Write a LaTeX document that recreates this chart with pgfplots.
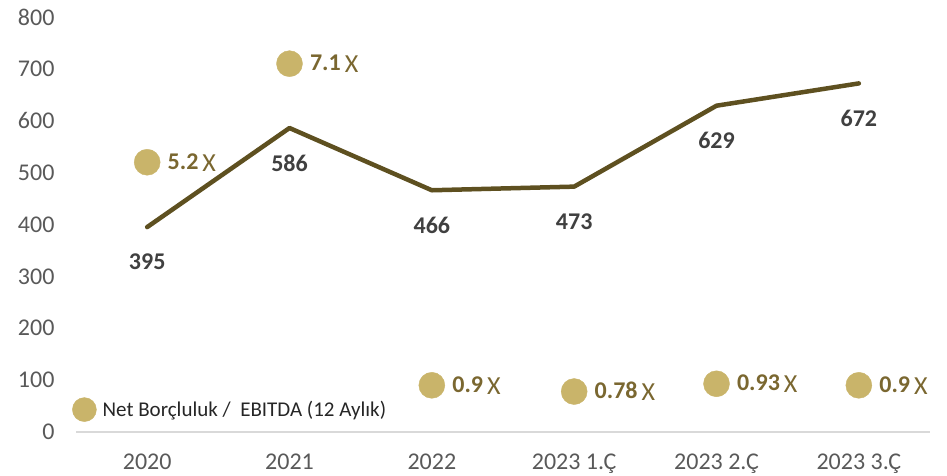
\documentclass[border=0pt]{standalone}
\usepackage{pgfplots}
\pgfplotsset{compat=1.18}
\usepackage{fontspec}
\setmainfont{Carlito}
\definecolor{lineC}{RGB}{94,80,32}
\definecolor{bubC}{RGB}{201,180,106}
\definecolor{bubT}{RGB}{122,103,48}
\definecolor{valT}{RGB}{64,64,64}
\definecolor{tickT}{RGB}{89,89,89}
\definecolor{axC}{RGB}{217,217,217}
\begin{document}
\begin{tikzpicture}
\useasboundingbox (0,0) rectangle (947pt,476pt);
\begin{axis}[
  at={(76pt,44pt)}, anchor=south west,
  width=854pt, height=415pt, scale only axis,
  xmin=-0.5, xmax=5.5, ymin=0, ymax=800,
  axis x line*=bottom, axis y line*=left,
  x axis line style={axC, line width=1.5pt, -},
  y axis line style={draw=none},
  xtick={0,1,2,3,4,5},
  xticklabels={2020,2021,2022,2023 1.Ç,2023 2.Ç,2023 3.Ç},
  ytick={0,100,...,800},
  tick style={draw=none},
  /pgf/number format/assume math mode=true,
  xticklabel style={font=\fontsize{24}{28}\selectfont, text=tickT, yshift=-18pt},
  yticklabel style={font=\fontsize{24}{28}\selectfont, text=tickT, xshift=-18pt},
  clip=false,
  legend style={at={(rel axis cs:0,0)}, anchor=south west, xshift=-4pt, yshift=10pt,
    draw=none, fill=none, font=\fontsize{21}{25}\selectfont, text=black!85,
    inner sep=0pt},
  legend cell align=left,
  legend image code/.code={\fill[bubC] (0pt,0pt) circle (12pt);},
]
% Net debt line
\addplot[lineC, line width=4.5pt, line join=round, line cap=round, forget plot,
  nodes near coords, point meta=explicit symbolic,
  every node near coord/.append style={anchor=center, yshift=-35pt, text=valT,
    font=\bfseries\fontsize{24}{28}\selectfont}]
  table[meta=lab] {
x y lab
0 395 395
1 586 586
2 466 466
3 473 473
4 629 629
5 672 672
};
% Net debt / EBITDA (x100)
\addplot[only marks, mark=*, mark size=13pt, mark options={fill=bubC, draw=bubC},
  nodes near coords={\textbf{\pgfplotspointmeta}\,\raisebox{-2pt}{\fontsize{26}{28}\selectfont X}},
  point meta=explicit symbolic,
  every node near coord/.append style={anchor=west, xshift=17pt, yshift=0pt, text=bubT,
    font=\fontsize{24}{28}\selectfont}]
  table[meta=lab] {
x y lab
0 520 5.2
1 710 7.1
2 90 0.9
3 78 0.78
4 93 0.93
5 90 0.9
};
\addlegendentry{\hspace{4pt}Net Borçluluk /\ \ EBITDA (12 Aylık)}
\end{axis}
\end{tikzpicture}
\end{document}
